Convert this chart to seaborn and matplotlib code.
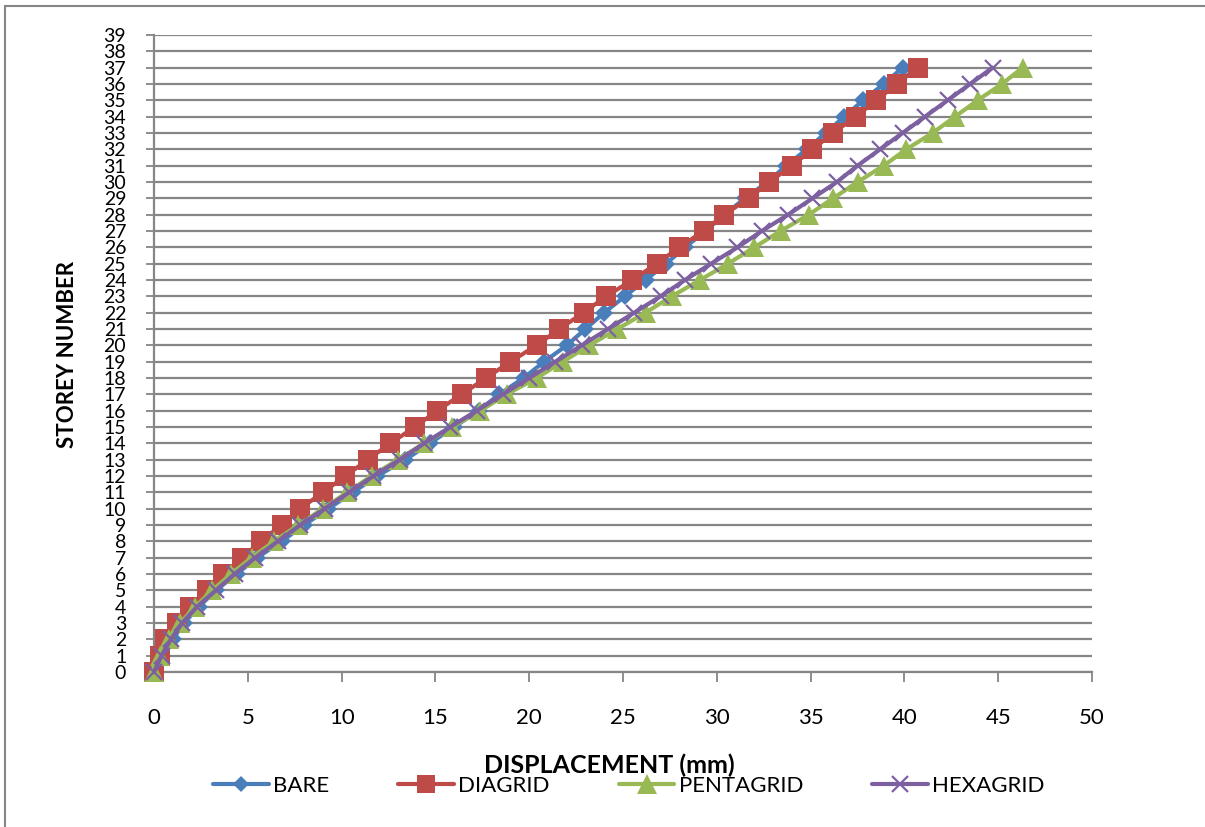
import matplotlib
matplotlib.use("Agg")
import matplotlib.pyplot as plt
import seaborn as sns
import pandas as pd
from matplotlib.lines import Line2D

storeys = list(range(0, 38))

bare = [0, 0.4, 1.0, 1.6, 2.4, 3.3, 4.4, 5.5, 6.8, 8.0, 9.3, 10.6, 11.9, 13.4, 14.7,
        16.0, 17.3, 18.4, 19.7, 20.8, 22.0, 23.0, 24.0, 25.1, 26.2, 27.3, 28.3, 29.4,
        30.4, 31.5, 32.7, 33.7, 34.8, 35.8, 36.8, 37.8, 38.9, 39.9]
diagrid = [0, 0.3, 0.6, 1.2, 1.9, 2.8, 3.7, 4.7, 5.7, 6.8, 7.8, 9.0, 10.2, 11.4, 12.6,
           13.9, 15.1, 16.4, 17.7, 19.0, 20.4, 21.6, 22.9, 24.1, 25.5, 26.8, 28.0, 29.3,
           30.4, 31.7, 32.8, 34.0, 35.1, 36.2, 37.4, 38.5, 39.6, 40.7]
pentagrid = [0, 0.3, 0.8, 1.4, 2.2, 3.1, 4.1, 5.2, 6.4, 7.7, 9.0, 10.3, 11.6, 13.0, 14.4,
             15.9, 17.4, 18.8, 20.4, 21.8, 23.2, 24.7, 26.2, 27.6, 29.1, 30.6, 32.0, 33.4,
             34.9, 36.2, 37.5, 38.9, 40.1, 41.5, 42.7, 43.9, 45.2, 46.3]
hexagrid = [0, 0.4, 0.9, 1.5, 2.3, 3.3, 4.3, 5.4, 6.6, 7.8, 9.1, 10.4, 11.7, 13.1, 14.4,
            15.8, 17.2, 18.6, 20.0, 21.4, 22.8, 24.2, 25.6, 27.0, 28.3, 29.7, 31.1, 32.4,
            33.8, 35.1, 36.4, 37.5, 38.7, 39.9, 41.1, 42.3, 43.5, 44.7]

series_names = ["BARE", "DIAGRID", "PENTAGRID", "HEXAGRID"]
x_ticks = list(range(0, 51, 5))
y_ticks = list(range(0, 40))

sns.set_theme(style="white")
plt.rcParams['font.family'] = ['Lato', 'DejaVu Sans']
plt.rcParams['text.color'] = 'black'

W, H = 1205, 827
fig = plt.figure(figsize=(W / 100, H / 100), dpi=100)
ax = fig.add_axes([154 / W, 1 - 672 / H, (1092 - 154) / W, (672 - 35) / H])

grey = "#868686"
styles = {
    "BARE": dict(color="#4A7EBB", marker="D", markersize=9, mew=0),
    "DIAGRID": dict(color="#BE4B48", marker="s", markersize=14, mew=0),
    "PENTAGRID": dict(color="#98B954", marker="^", markersize=15, mew=0),
    "HEXAGRID": dict(color="#7D60A0", marker="x", markersize=12, mew=1.6),
}
data = {"BARE": bare, "DIAGRID": diagrid, "PENTAGRID": pentagrid, "HEXAGRID": hexagrid}

for name in series_names:
    df = pd.DataFrame({"disp": data[name], "storey": storeys})
    st = styles[name]
    sns.lineplot(data=df, x="disp", y="storey", ax=ax, color=st["color"],
                 marker=st["marker"], markersize=st["markersize"],
                 markeredgewidth=st["mew"], markeredgecolor=st["color"],
                 linewidth=3, estimator=None, sort=False, legend=False,
                 clip_on=False, zorder=3)

ax.set_xlim(0, 50)
ax.set_ylim(0, 39)
ax.set_xticks(x_ticks)
ax.set_yticks(y_ticks)
ax.set_xticklabels([str(v) for v in x_ticks], fontsize=16)
ax.set_yticklabels([str(v) for v in y_ticks], fontsize=14)
ax.tick_params(axis="x", direction="out", length=7, width=1.3, color=grey, pad=19, labelcolor="black")
ax.tick_params(axis="y", direction="out", length=6, width=1.3, color=grey, pad=14, labelcolor="black")
ax.xaxis.set_ticks_position("bottom")
ax.yaxis.set_ticks_position("left")
ax.set_xlabel("")
ax.set_ylabel("")

ax.grid(False)
ax.yaxis.grid(True, color=grey, linewidth=1.6)
ax.set_axisbelow(True)
for s in ["top", "right"]:
    ax.spines[s].set_visible(False)
for s in ["left", "bottom"]:
    ax.spines[s].set_color(grey)
    ax.spines[s].set_linewidth(1.6)

fig.text(68 / W, 1 - 355 / H, "STOREY NUMBER", rotation=90, ha="center", va="center",
         fontsize=16, fontweight="bold", color="black")
fig.text(609 / W, 1 - 765 / H, "DISPLACEMENT (mm)", ha="center", va="center",
         fontsize=18, fontweight="bold", color="black")

handles = []
for name in series_names:
    st = styles[name]
    handles.append(Line2D([0], [0], color=st["color"], marker=st["marker"],
                          markersize=st["markersize"] - 1, markeredgewidth=st["mew"],
                          markeredgecolor=st["color"], linewidth=3))
leg = fig.legend(handles, series_names, loc="center", bbox_to_anchor=(629 / W, 1 - 786 / H),
                 ncol=4, frameon=False, fontsize=16, handlelength=2.5, columnspacing=3.1,
                 handletextpad=0.2)
for t in leg.get_texts():
    t.set_color("black")

# outer chart border (top and left visible)
fig.add_artist(Line2D([5 / W, 5 / W], [0, 1 - 6 / H], transform=fig.transFigure,
                      color=grey, linewidth=1.5))
fig.add_artist(Line2D([5 / W, 1], [1 - 6 / H, 1 - 6 / H], transform=fig.transFigure,
                      color=grey, linewidth=1.5))

fig.savefig("out.png", dpi=100)
